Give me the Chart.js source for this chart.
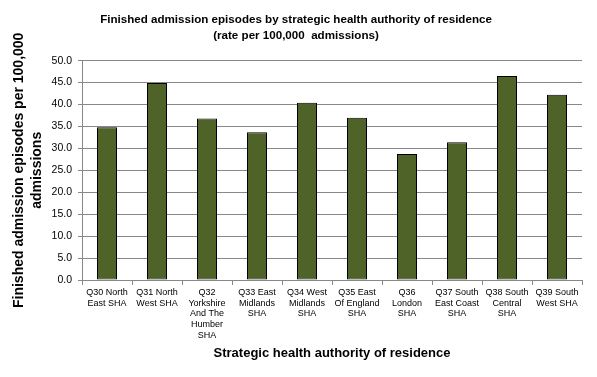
<!DOCTYPE html>
<html>
<head>
<meta charset="utf-8">
<script src="https://cdn.jsdelivr.net/npm/chart.js@4"></script>
<style>
  html, body { margin: 0; padding: 0; background: #fff; }
  #wrap { width: 597px; height: 377px; }
</style>
</head>
<body>
<div id="wrap"><canvas id="myChart"></canvas></div>
<script>
/** Data */
const labels = [
  ["Q30 North", "East SHA"],
  ["Q31 North", "West SHA"],
  ["Q32", "Yorkshire", "And The", "Humber", "SHA"],
  ["Q33 East", "Midlands", "SHA"],
  ["Q34 West", "Midlands", "SHA"],
  ["Q35 East", "Of England", "SHA"],
  ["Q36", "London", "SHA"],
  ["Q37 South", "East Coast", "SHA"],
  ["Q38 South", "Central", "SHA"],
  ["Q39 South", "West SHA"]
];
const rates = [34.8, 44.9, 36.8, 33.7, 40.4, 37.0, 28.7, 31.4, 46.5, 42.2];

const titleLines = [
  "Finished admission episodes by strategic health authority of residence",
  "(rate per 100,000  admissions)"
];
const xTitle = "Strategic health authority of residence";
const yTitle = ["Finished admission episodes per 100,000", "admissions"];

const ctx = document.getElementById("myChart").getContext("2d");

const chart = new Chart(ctx, {
  type: "bar",
  data: {
    labels: labels,
    datasets: [
      {
        data: rates,
        backgroundColor: "#4F6228",
        borderColor: "#000000",
        borderWidth: 1,
        borderSkipped: false,
        barPercentage: 0.4,
        categoryPercentage: 1
      }
    ]
  },
  options: {
    responsive: true,
    maintainAspectRatio: false,
    animation: false,
    layout: { padding: { left: 10, right: 15, top: 0, bottom: 16 } },
    plugins: {
      legend: { display: false },
      tooltip: { enabled: false },
      title: {
        display: true,
        text: titleLines,
        color: "#000",
        font: { family: "Liberation Sans, Arial", size: 11.6, weight: "bold", lineHeight: 1.45 },
        padding: { top: 11, bottom: 16 }
      }
    },
    scales: {
      x: {
        grid: { offset: true, drawOnChartArea: false, color: "#888888", tickLength: 5 },
        border: { color: "#888888" },
        ticks: {
          color: "#000",
          autoSkip: false,
          maxRotation: 0,
          padding: 2,
          font: { family: "Liberation Sans, Arial", size: 9, lineHeight: 1.2 }
        },
        title: {
          display: true,
          text: xTitle,
          color: "#000",
          font: { family: "Liberation Sans, Arial", size: 13, weight: "bold" },
          padding: { top: 4, bottom: 0 }
        },
        afterFit: (s) => { s.height = 377 - 280 - 16; }
      },
      y: {
        min: 0,
        max: 50,
        grid: { color: "#888888", tickLength: 4 },
        border: { color: "#888888" },
        ticks: {
          stepSize: 5,
          color: "#000",
          padding: 6,
          font: { family: "Liberation Sans, Arial", size: 10.5 },
          callback: (v) => v.toFixed(1)
        },
        title: {
          display: true,
          text: yTitle,
          color: "#000",
          font: { family: "Liberation Sans, Arial", size: 14, weight: "bold", lineHeight: 1.3 },
          padding: { top: 0, bottom: 0 }
        },
        afterFit: (s) => { s.width = 82 - 10; }
      }
    }
  }
});
</script>
</body>
</html>
